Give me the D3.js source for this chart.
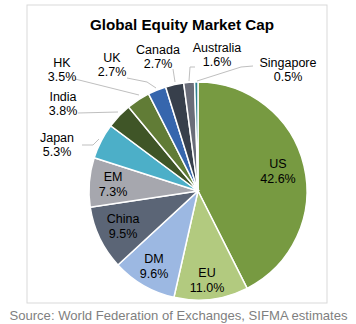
<!DOCTYPE html>
<html><head><meta charset="utf-8">
<script src="https://cdn.jsdelivr.net/npm/d3@7"></script>
<style>body{margin:0;background:#fff;}svg{display:block;font-family:"Liberation Sans",Arial,sans-serif;}</style>
</head><body>
<svg id="c" width="356" height="324"></svg>
<script>
const categories = ["US","EU","DM","China","EM","Japan","India","HK","UK","Canada","Australia","Singapore"];
const values = [42.6,11.0,9.6,9.5,7.3,5.3,3.8,3.5,2.7,2.7,1.6,0.5];
const valueLabels = ["42.6%","11.0%","9.6%","9.5%","7.3%","5.3%","3.8%","3.5%","2.7%","2.7%","1.6%","0.5%"];
const colors = ["#779a41","#b2ca7f","#9cb8e2","#5b6576","#a6a7ae","#4cafc8","#3f5527","#617c36","#3666ad","#373f4b","#6a6d79","#2f8090"];
const title = "Global Equity Market Cap";
const source = "Source: World Federation of Exchanges, SIFMA estimates";

const svg = d3.select("#c");
svg.append("rect").attr("x",27).attr("y",5).attr("width",300).attr("height",298)
  .attr("fill","#fff").attr("stroke","#d9d9d9").attr("stroke-width",1);
svg.append("text").attr("x",182).attr("y",30).attr("text-anchor","middle")
  .attr("font-size",15.2).attr("font-weight","bold").attr("fill","#000").text(title);
svg.append("text").attr("x",178.5).attr("y",320).attr("text-anchor","middle")
  .attr("font-size",13.1).attr("fill","#7f7f7f").text(source);

const cx = 198, cy = 191, R = 109;
const data = categories.map((c,i)=>({c, v:values[i], l:valueLabels[i], col:colors[i]}));
const pie = d3.pie().value(d=>d.v).sort(null);
const arcs = pie(data);
const arc = d3.arc().innerRadius(0).outerRadius(R);
const g = svg.append("g").attr("transform",`translate(${cx},${cy})`);
g.selectAll("path").data(arcs).join("path").attr("d",arc)
  .attr("fill",d=>d.data.col).attr("stroke","#fff").attr("stroke-width",1.5);

const inside = {US:[80,-20],EU:[9,89],DM:[-44,75],China:[-75,35],EM:[-85,-7]};
const outside = {
  Japan:{x:57,y:137,line:[[82,145],[93,145],[99,139]]},
  India:{x:63,y:96,line:[[78,113],[118,112]]},
  HK:{x:62,y:62,line:[[75,79],[139,95]]},
  UK:{x:112,y:57,line:[[127,78],[147,82],[156,88]]},
  Canada:{x:158,y:49,line:[[173,69],[175,82]]},
  Australia:{x:217,y:47,line:[[195,67],[190,67],[189,81]]},
  Singapore:{x:288,y:62,line:[[253,66],[241,67],[197,81]]}
};
const line = d3.line();
arcs.forEach(a=>{
  const d = a.data;
  if (inside[d.c]) {
    const [dx,dy] = inside[d.c];
    const t = g.append("text").attr("text-anchor","middle").attr("font-size",12.5).attr("fill","#000");
    t.append("tspan").attr("x",dx).attr("y",dy-3).text(d.c);
    t.append("tspan").attr("x",dx).attr("y",dy+12).text(d.l);
  } else {
    const o = outside[d.c];
    svg.append("path").attr("d",line(o.line)).attr("fill","none").attr("stroke","#bfbfbf").attr("stroke-width",1);
    const t = svg.append("text").attr("text-anchor","middle").attr("font-size",12.5).attr("fill","#000");
    t.append("tspan").attr("x",o.x).attr("y",o.y+4.5).text(d.c);
    t.append("tspan").attr("x",o.x).attr("y",o.y+18.5).text(d.l);
  }
});
</script>
</body></html>
